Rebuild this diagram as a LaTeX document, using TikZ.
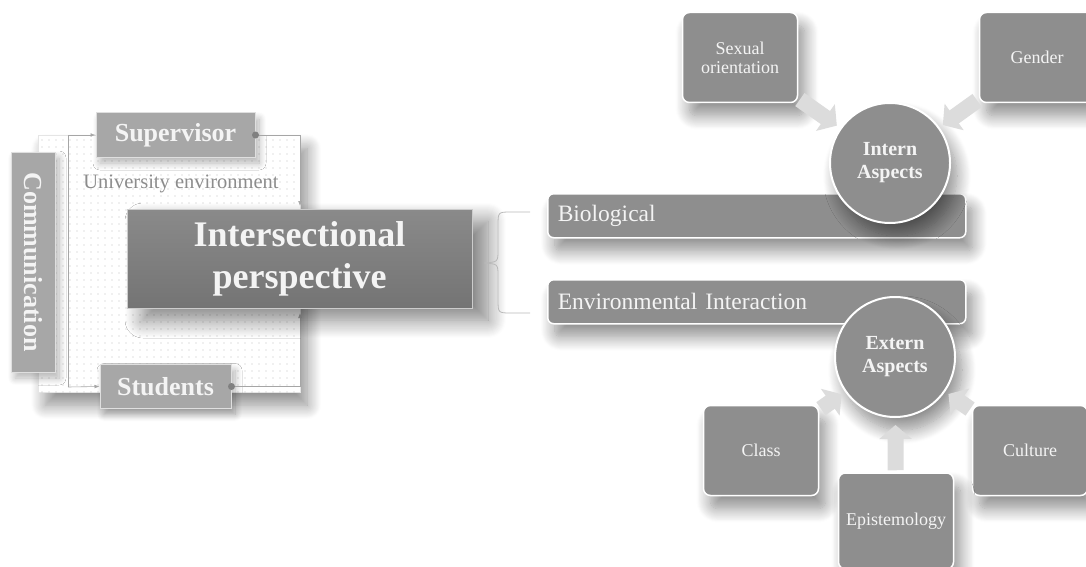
\documentclass[tikz,border=0pt]{standalone}
\usepackage{fontspec}
\setmainfont{Liberation Serif}
\usetikzlibrary{positioning,shadows.blur,patterns.meta,arrows.meta}

\definecolor{boxgray}{HTML}{8E8E8E}
\definecolor{rolegray}{HTML}{A7A7A7}
\definecolor{persptop}{HTML}{8A8A8A}
\definecolor{perspbot}{HTML}{747474}
\definecolor{feedgray}{HTML}{DCDCDC}
\definecolor{unigray}{HTML}{8C8C8C}
\definecolor{paletext}{HTML}{F4F4F4}

\tikzset{
  softshadow/.style={blur shadow={shadow xshift=7pt,shadow yshift=-13pt,
      shadow blur radius=14pt,shadow blur steps=16,shadow opacity=45}},
  envbox/.style={draw=gray!20,fill=white,softshadow,
      postaction={pattern={Dots[distance=7pt,radius=0.6pt]},pattern color=gray!50}},
  rolebox/.style={draw=gray!25,line width=1pt,fill=rolegray,text=paletext,
      minimum height=44,inner sep=0pt,font=\fontsize{26}{28}\selectfont\bfseries,
      blur shadow={shadow xshift=4pt,shadow yshift=-6pt,shadow blur radius=7pt,
        shadow blur steps=10,shadow opacity=30}},
  commbox/.style={rolebox,rotate=-90,minimum width=220,minimum height=44},
  perspbox/.style={draw=gray!40,top color=persptop,bottom color=perspbot,
      text=paletext,align=center,minimum width=345,minimum height=99,
      font=\fontsize{36}{42}\selectfont\bfseries,
      blur shadow={shadow xshift=16pt,shadow yshift=-12pt,shadow blur radius=18pt,
        shadow blur steps=18,shadow opacity=50}},
  barbox/.style={draw=white,line width=1.5pt,fill=boxgray,rounded corners=6pt,
      text=paletext,text width=398pt,inner xsep=10pt,align=left,minimum height=44,
      font=\fontsize{23.5}{26}\selectfont,softshadow},
  hub/.style={circle,draw=white,line width=2pt,fill=boxgray,minimum size=120,
      text=paletext,align=center,font=\fontsize{20}{23}\selectfont\bfseries,softshadow},
  aspectbox/.style={draw=white,line width=1.5pt,fill=boxgray,rounded corners=7pt,
      minimum width=115,minimum height=90,text=paletext,align=center,
      font=\fontsize{18}{19}\selectfont,softshadow},
  link/.style={draw=gray!70,line width=0.6pt},
  feed/.style={draw=feedgray,line width=16pt,-{Triangle[length=14pt,width=32pt]},
      shorten >=4pt,shorten <=2pt},
  bracket/.style={draw=gray!55,line width=0.8pt}
}

\begin{document}
\begin{tikzpicture}[x=1pt,y=-1pt]
  \useasboundingbox (0,0) rectangle (1086,567);

  % left part: university environment
  \node[envbox,anchor=north west,minimum width=262,minimum height=257] (env) at (38,135) {};
  \node[text=unigray,font=\fontsize{20.5}{22}\selectfont] (uni) at (181,184) {University environment};
  \coordinate (ltop) at (68,135);
  \coordinate (lbot) at (68,387);
  \draw[link] (ltop) -- (lbot);
  \node[commbox] (comm) at (33,262) {Communication};
  \node[rolebox,minimum width=159] (sup) at (175.5,135) {Supervisor};
  \node[rolebox,minimum width=131] (stu) at (165.5,386.5) {Students};
  \draw[link,-{Latex[length=5pt]}] (ltop) -- (sup.west);
  \draw[link,-{Latex[length=5pt]}] (lbot) -- (stu.west);
  \draw[link,-{Latex[length=5pt]}] (sup.east) -| (300,206);
  \draw[link,-{Latex[length=5pt]}] (stu.east) -| (300,313);
  \fill[gray] (sup.east) circle (3.5);
  \fill[gray] (stu.east) circle (3.5);
  \node[perspbox] (persp) at (299.5,258.5) {Intersectional\\perspective};

  % brace
  \draw[bracket] (530,212) -- (511,212) .. controls (498,212) .. (498,226) -- (498,250)
    .. controls (498,262) .. (484,263) .. controls (498,264) .. (498,276) -- (498,299)
    .. controls (498,313) .. (511,313) -- (530,313);

  % right part
  \node[barbox,anchor=north west] (bio) at (547,193) {Biological};
  \node[barbox,anchor=north west] (envi) at (547,279) {Environmental Interaction};
  \node[hub] (intern) at (890,163) {Intern\\Aspects};
  \node[hub] (extern) at (895,357) {Extern\\Aspects};

  \node[aspectbox] (sexo) at (740,57.5) {Sexual\\orientation};
  \node[aspectbox] (gender) at (1037,57.5) {Gender};
  \node[aspectbox] (class) at (761,450.5) {Class};
  \node[aspectbox] (culture) at (1030,450.5) {Culture};
  \node[aspectbox,minimum height=96] (episte) at (896,521) {Epistemology};

  \draw[feed] (sexo) -- (intern);
  \draw[feed] (gender) -- (intern);
  \draw[feed] (class) -- (extern);
  \draw[feed] (culture) -- (extern);
  \draw[feed,shorten >=7pt] (episte) -- (extern);
\end{tikzpicture}
\end{document}
